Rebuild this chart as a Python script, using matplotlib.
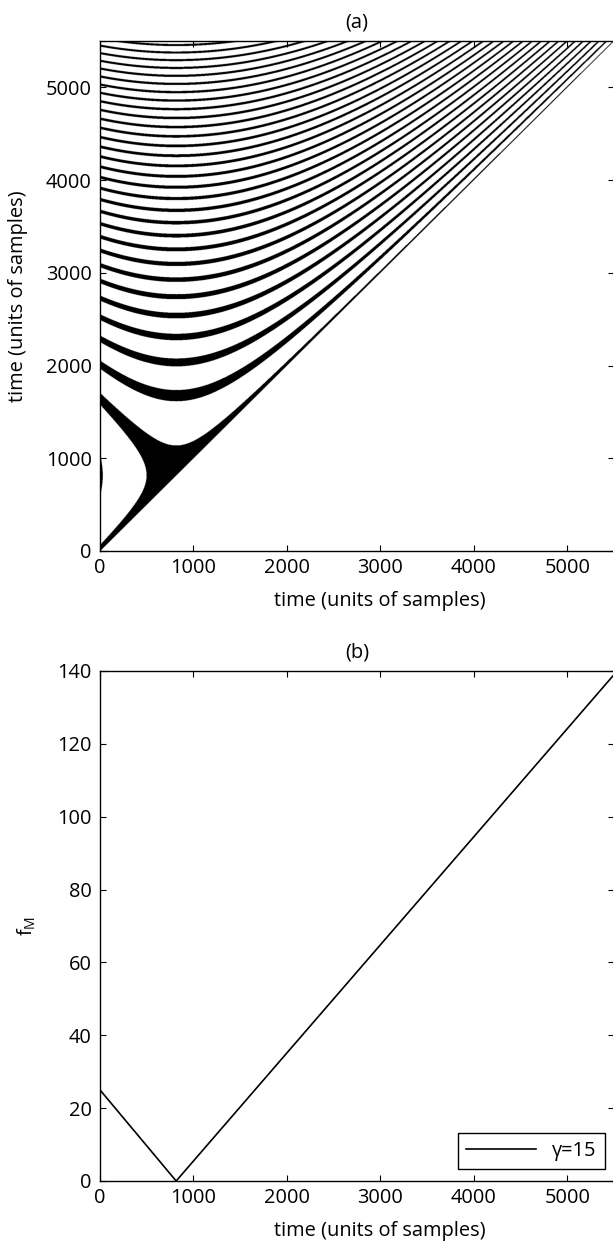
import numpy as np
import matplotlib
matplotlib.use('Agg')
import matplotlib.pyplot as plt

plt.rcParams['font.family'] = ['Open Sans', 'DejaVu Sans']
plt.rcParams['font.size'] = 14.4

# instantaneous frequency of the chirp (breakpoints of f_M)
times = [0, 815, 5500]
f_M = [25, 0, 139]
fs = 11025  # sampling rate used to turn f_M into phase
legend_label = 'γ=15'

xticks = [0, 1000, 2000, 3000, 4000, 5000]
yticks_a = [0, 1000, 2000, 3000, 4000, 5000]
yticks_b = [0, 20, 40, 60, 80, 100, 120, 140]
tmax = 5500
band_halfwidth = 0.14  # in cycles


def style_axes(ax):
    ax.tick_params(direction='in', top=True, right=True, length=4, width=0.8,
                   labelsize=14.4)
    ax.tick_params(axis='x', pad=5)
    ax.tick_params(axis='y', pad=6)
    for s in ax.spines.values():
        s.set_linewidth(1.0)


fig = plt.figure(figsize=(6.13, 12.44), dpi=100)
W, H = 613.0, 1244.0
ax1 = fig.add_axes([100 / W, (H - 551) / H, 514 / W, 510 / H])
ax2 = fig.add_axes([100 / W, (H - 1181) / H, 514 / W, 510 / H])

# (a) phase-difference bands over (t1, t2)
# the chirp sweeps down through zero and back up, so the frequency
# changes sign at the turning point
t_full = np.arange(0, tmax + 1)
f_signed = np.interp(t_full, times, f_M) * np.sign(t_full - times[1])
phase_full = np.cumsum(f_signed) / fs
step = 3
t = t_full[::step]
phase = phase_full[::step]
dphi = phase[:, None] - phase[None, :]  # rows: t2, cols: t1
band = np.cos(2 * np.pi * dphi) > np.cos(2 * np.pi * band_halfwidth)
band &= t[:, None] >= t[None, :]
ax1.imshow(band.astype(float), cmap='gray_r', origin='lower',
           extent=[0, tmax, 0, tmax], aspect='auto', vmin=0, vmax=1,
           interpolation='antialiased')
ax1.set_xlim(0, tmax)
ax1.set_ylim(0, tmax)
ax1.set_xticks(xticks)
ax1.set_yticks(yticks_a)
ax1.set_xlabel('time (units of samples)')
ax1.set_ylabel('time (units of samples)')
ax1.xaxis.set_label_coords(0.545, -0.078)
ax1.yaxis.set_label_coords(-0.14, 0.5)
ax1.set_title('(a)', pad=10, fontsize=14.4)
style_axes(ax1)

# (b) f_M versus time
ax2.plot(times, f_M, color='black', lw=1.2, label=legend_label)
ax2.set_xlim(0, tmax)
ax2.set_ylim(0, 140)
ax2.set_xticks(xticks)
ax2.set_yticks(yticks_b)
ax2.set_xlabel('time (units of samples)')
ax2.set_ylabel('f$_\\mathregular{M}$')
ax2.xaxis.set_label_coords(0.545, -0.078)
ax2.yaxis.set_label_coords(-0.12, 0.5)
ax2.set_title('(b)', pad=10, fontsize=14.4)
leg = ax2.legend(loc='lower right', bbox_to_anchor=(0.982, 0.0235),
                 fancybox=False, framealpha=1, edgecolor='black',
                 handlelength=3.5, borderaxespad=0, fontsize=14.4)
leg.get_frame().set_linewidth(1.0)
style_axes(ax2)

fig.savefig('out.png', dpi=100)
